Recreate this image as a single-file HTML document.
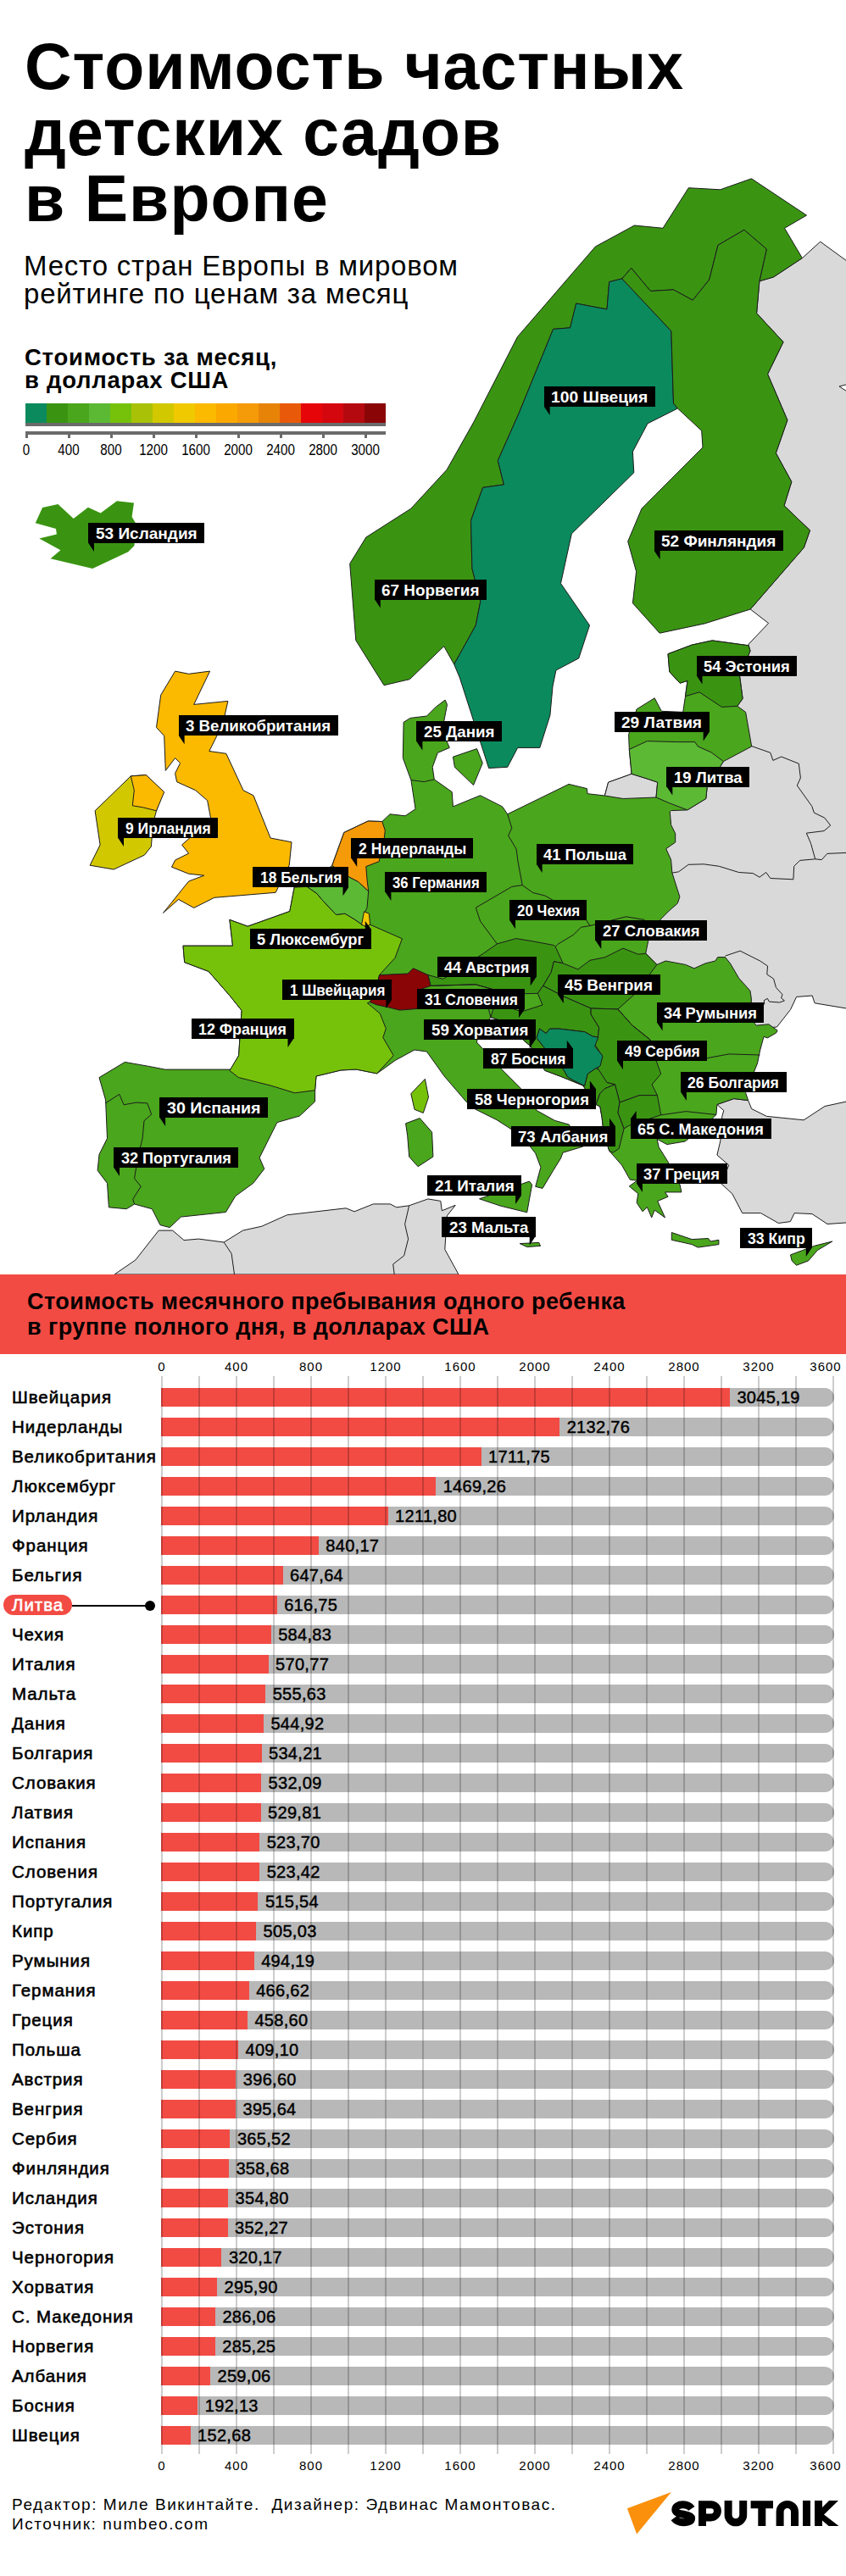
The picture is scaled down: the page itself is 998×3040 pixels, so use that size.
<!DOCTYPE html>
<html><head><meta charset="utf-8"><title>Стоимость частных детских садов в Европе</title>
<style>
html,body{margin:0;padding:0;background:#fff;}
body{width:998px;height:3040px;position:relative;overflow:hidden;font-family:"Liberation Sans",sans-serif;color:#000;}
.a{position:absolute;white-space:nowrap;}
.t{font-weight:bold;font-size:77px;line-height:78px;left:29px;letter-spacing:1px;}
.sub{font-size:33px;left:28px;letter-spacing:0.8px;}
.lt{font-weight:bold;font-size:27.5px;left:29px;letter-spacing:0.75px;}
.lab{position:absolute;background:#000;color:#fff;font-weight:bold;font-size:19px;height:24px;line-height:24px;white-space:nowrap;}
.cn{font-weight:normal;font-size:20.5px;left:14px;-webkit-text-stroke:0.6px currentColor;letter-spacing:0.95px;}
.val{font-size:20px;-webkit-text-stroke:0.45px #000;letter-spacing:0.3px;}
.ax{font-size:15px;letter-spacing:1px;}
</style></head><body>

<div class="a t" style="top:39px;">Стоимость частных</div>
<div class="a t" style="top:117px;">детских садов</div>
<div class="a t" style="top:195px;">в Европе</div>
<svg class="a" style="left:0;top:0" width="998" height="1510" viewBox="0 0 998 1510">
<polygon points="946.4,304.6 967.7,285.2 1005.0,312.4 1005.0,452.2 990.0,456.0 1005.0,465.7 1005.0,1191.1 961.1,1183.8 958.2,1175.0 939.6,1176.4 932.5,1191.5 916.4,1212.0 880.0,1215.0 760.0,1150.0 760.0,950.0 850.0,850.0 880.0,770.0 883.3,760.0 906.6,735.5 885.2,719.0 948.3,646.3 955.5,625.9 925.0,596.8 933.8,568.6 915.3,534.7 928.9,495.8 905.6,441.5 924.0,403.6 892.6,369.7 895.9,331.8 912.4,327.0" fill="#d9d9d9" stroke="#1c1c1c" stroke-width="1" stroke-linejoin="round"/>
<polygon points="845.9,1303.5 865.7,1296.6 882.6,1298.6 886.6,1308.5 904.5,1317.4 948.1,1321.8 973.0,1305.5 1005.0,1298.6 1005.0,1442.5 976.0,1444.5 958.1,1432.6 937.2,1431.6 932.3,1441.6 918.4,1443.5 897.5,1431.6 875.7,1431.6 863.8,1408.8 850.9,1396.9 859.8,1375.0 845.9,1363.1 849.9,1346.2 851.8,1317.4 853.8,1310.5" fill="#d9d9d9" stroke="#1c1c1c" stroke-width="1" stroke-linejoin="round"/>
<polygon points="135.0,1504.0 159.9,1486.9 187.2,1452.1 203.6,1452.1 217.0,1463.6 234.3,1462.1 264.1,1466.0 286.5,1452.1 308.8,1447.2 338.6,1433.8 408.1,1425.8 418.1,1429.8 440.4,1420.9 460.3,1420.9 467.7,1424.8 482.6,1422.8 504.9,1414.9 519.8,1417.4 521.3,1428.8 537.2,1422.3 527.3,1434.8 524.8,1474.5 541.0,1504.0" fill="#d9d9d9" stroke="#1c1c1c" stroke-width="1" stroke-linejoin="round"/>
<polygon points="117.0,1271.6 147.3,1253.4 175.6,1258.4 194.6,1262.1 272.1,1262.1 281.6,1245.7 285.1,1192.5 270.9,1174.8 246.1,1146.4 217.7,1135.7 216.0,1116.2 274.5,1116.2 270.9,1085.4 292.2,1093.2 341.8,1075.5 347.2,1047.1 362.1,1046.3 391.7,1021.5 405.8,982.5 434.2,969.0 450.8,969.5 460.0,960.8 478.1,962.8 490.1,954.7 484.9,920.6 475.3,894.5 476.1,852.3 484.1,847.4 503.4,845.0 514.3,834.2 525.1,826.1 527.5,831.4 523.5,852.3 525.1,870.3 530.3,882.4 516.3,888.4 510.2,905.3 512.3,919.8 533.2,934.6 534.4,951.9 566.5,938.7 592.6,951.9 598.7,960.8 671.0,925.4 692.3,930.6 693.1,936.7 713.4,939.0 717.6,923.2 745.1,913.3 742.3,884.4 741.6,866.8 751.1,836.9 772.2,823.8 780.3,839.3 805.7,840.4 808.5,821.7 811.0,803.4 802.1,806.2 789.8,792.8 788.0,771.7 816.2,761.1 840.2,755.9 883.2,761.8 885.0,768.2 872.6,798.1 876.1,824.5 869.8,833.3 879.6,840.4 886.7,880.9 853.4,898.6 834.1,929.6 832.8,942.5 810.9,955.9 791.6,956.6 790.3,957.9 791.6,973.4 796.7,983.7 796.7,994.0 785.7,1001.7 791.6,1014.6 792.9,1030.1 801.9,1058.4 799.3,1066.1 790.3,1073.9 780.0,1084.2 770.5,1097.8 764.7,1110.5 761.7,1125.2 774.9,1138.4 785.2,1134.0 808.6,1138.4 818.9,1142.8 832.1,1136.9 843.8,1134.0 846.7,1129.6 855.5,1129.6 861.4,1136.9 871.7,1154.5 884.9,1169.2 886.3,1178.0 886.3,1202.9 892.2,1210.2 906.8,1208.7 917.1,1216.1 915.6,1219.0 905.4,1224.9 901.0,1223.4 896.5,1240.0 893.5,1254.9 879.6,1289.6 882.6,1298.6 865.7,1296.6 845.9,1303.5 844.9,1315.5 830.0,1330.0 808.1,1347.0 786.8,1350.6 775.1,1344.3 777.2,1353.8 787.9,1370.9 800.6,1396.0 802.1,1398.1 803.9,1406.9 784.5,1406.9 788.1,1412.2 775.7,1417.5 784.5,1436.9 772.2,1428.1 768.7,1436.9 763.4,1424.5 758.1,1429.8 751.1,1419.3 752.8,1408.7 742.3,1399.9 751.7,1393.2 743.2,1392.1 733.6,1375.1 718.7,1358.1 712.0,1337.0 710.1,1318.8 707.8,1305.8 703.0,1303.5 687.7,1281.0 661.7,1270.4 642.7,1263.3 626.2,1234.9 590.7,1204.2 578.9,1200.6 565.0,1218.0 562.4,1230.0 590.7,1260.9 614.4,1284.6 633.3,1310.6 654.6,1322.4 671.1,1327.1 687.7,1353.1 664.0,1360.2 661.5,1367.0 652.4,1381.7 640.0,1402.4 631.7,1400.3 637.9,1377.6 631.7,1361.0 615.1,1340.3 586.2,1321.7 557.2,1307.2 549.0,1299.0 524.1,1270.0 503.4,1241.0 489.0,1239.0 466.2,1251.4 444.7,1266.9 420.0,1262.0 402.0,1263.0 373.0,1270.0 371.6,1286.7 371.6,1300.0 353.4,1317.0 326.9,1324.6 306.1,1366.2 311.8,1379.4 298.6,1396.4 277.8,1411.5 266.4,1430.5 213.5,1436.1 200.2,1448.6 188.9,1445.6 179.4,1426.7 158.6,1421.0 149.2,1426.7 128.4,1424.8 126.5,1396.4 115.1,1381.3 117.0,1362.4 126.5,1343.5 124.6,1298.1" fill="#4aa61c" stroke="#1c1c1c" stroke-width="1" stroke-linejoin="round"/>
<polygon points="534.4,893.2 562.5,883.6 569.3,900.5 558.5,926.6 536.4,905.3" fill="#4aa61c" stroke="#1c1c1c" stroke-width="1" stroke-linejoin="round"/>
<polygon points="478.6,1325.8 495.2,1319.6 509.6,1336.2 510.9,1365.1 493.1,1376.7 482.7,1365.1 480.7,1340.3" fill="#4aa61c" stroke="#1c1c1c" stroke-width="1" stroke-linejoin="round"/>
<polygon points="565.5,1414.8 624.5,1394.1 627.6,1398.2 621.7,1430.8 590.3,1423.1" fill="#4aa61c" stroke="#1c1c1c" stroke-width="1" stroke-linejoin="round"/>
<polygon points="613.2,1467.6 635.8,1466.4 637.5,1470.4 621.7,1471.5" fill="#4aa61c" stroke="#1c1c1c" stroke-width="1" stroke-linejoin="round"/>
<polygon points="792.3,1454.5 816.2,1462.6 835.6,1461.5 838.1,1465.0 847.9,1463.3 847.9,1468.6 823.3,1472.1 816.2,1468.6 792.3,1463.3" fill="#4aa61c" stroke="#1c1c1c" stroke-width="1" stroke-linejoin="round"/>
<polygon points="932.5,1480.9 946.6,1475.6 960.7,1470.3 981.8,1465.0 964.2,1475.6 953.6,1487.9 939.5,1493.2 934.2,1487.9" fill="#4aa61c" stroke="#1c1c1c" stroke-width="1" stroke-linejoin="round"/>
<polygon points="484.8,1290.7 501.4,1273.3 505.5,1294.8 499.3,1313.4 489.0,1309.3" fill="#76c20a" stroke="#1c1c1c" stroke-width="1" stroke-linejoin="round"/>
<polygon points="713.4,939.0 717.6,923.2 745.1,913.3 765.2,919.6 775.7,923.2 774.0,941.0 735.2,942.5" fill="#d9d9d9" stroke="#1c1c1c" stroke-width="1" stroke-linejoin="round"/>
<polygon points="535.7,784.0 523.7,762.7 483.4,801.6 453.0,808.7 419.8,755.7 412.7,665.2 431.8,634.1 484.8,600.2 527.2,554.2 559.0,497.8 610.4,397.6 702.4,291.0 748.4,266.0 782.0,269.3 812.3,221.7 849.7,223.8 886.5,210.8 951.5,254.1 925.5,269.3 946.4,304.6 912.4,327.0 895.9,331.8 904.3,294.0 877.9,271.3 847.0,289.3 836.7,330.0 817.2,354.3 794.5,341.9 767.4,343.5 744.7,316.4 733.8,328.9 718.7,332.6 716.0,365.0 679.7,358.1 672.6,386.8 652.6,388.4 612.0,488.0 587.3,543.6 594.4,571.9 569.6,575.4 555.5,614.3 556.9,670.9 566.8,709.7 561.2,738.0" fill="#3a9412" stroke="#1c1c1c" stroke-width="1" stroke-linejoin="round"/>
<polygon points="733.8,328.9 791.8,390.6 794.5,476.0 799.4,482.0 764.0,499.8 746.4,533.0 747.8,557.8 674.3,629.9 661.5,688.5 695.5,738.0 682.7,776.9 655.9,791.0 652.0,810.0 648.9,844.2 636.8,882.4 610.7,882.4 598.7,905.3 576.6,906.5 542.4,800.0 535.7,784.0 561.2,738.0 566.8,709.7 556.9,670.9 555.5,614.3 569.6,575.4 594.4,571.9 587.3,543.6 612.0,488.0 652.6,388.4 672.6,386.8 679.7,358.1 716.0,365.0 718.7,332.6" fill="#0b8a5e" stroke="#1c1c1c" stroke-width="1" stroke-linejoin="round"/>
<polygon points="744.7,316.4 767.4,343.5 794.5,341.9 817.2,354.3 836.7,330.0 847.0,289.3 877.9,271.3 904.3,294.0 895.9,331.8 892.6,369.7 924.0,403.6 905.6,441.5 928.9,495.8 915.3,534.7 933.8,568.6 925.0,596.8 955.5,625.9 948.3,646.3 885.2,719.0 831.2,735.9 778.2,747.2 746.4,711.8 750.6,674.4 740.7,639.0 757.0,600.2 785.2,571.9 829.0,528.0 827.7,508.3 799.4,482.0 794.5,476.0 791.8,390.6 733.8,328.9" fill="#3a9412" stroke="#1c1c1c" stroke-width="1" stroke-linejoin="round"/>
<polygon points="50.1,599.0 68.4,595.1 86.7,612.0 103.9,598.7 118.7,605.5 137.9,591.3 158.0,593.6 155.6,609.9 160.0,617.3 158.5,643.9 151.2,651.3 109.2,671.0 59.6,659.2 71.4,649.2 46.3,635.6 66.9,630.6 66.0,624.0 41.8,617.3" fill="#3a9412"/>
<polygon points="206.6,792.1 222.6,795.3 247.6,792.1 228.7,831.4 268.9,827.4 262.8,854.4 246.8,886.5 266.8,889.3 287.0,932.7 299.0,938.8 319.1,989.0 344.0,993.8 341.2,1021.2 325.1,1053.3 252.8,1059.3 228.7,1071.4 210.6,1061.4 192.5,1077.4 222.6,1040.0 240.7,1033.2 222.6,1031.2 202.5,1023.2 206.6,1015.1 222.6,1007.1 214.6,997.0 248.8,966.9 244.7,944.8 230.7,932.7 208.6,922.7 206.6,912.6 212.6,900.6 206.6,894.6 195.3,909.4 193.7,868.4 184.5,858.4 189.7,820.2" fill="#fbb900" stroke="#1c1c1c" stroke-width="1" stroke-linejoin="round"/>
<polygon points="154.3,915.9 172.4,914.6 192.5,934.7 184.5,956.8 180.4,972.1 178.4,999.0 170.4,1009.1 134.2,1026.0 106.1,1021.2 118.1,997.0 112.1,956.8" fill="#d2c800" stroke="#1c1c1c" stroke-width="1" stroke-linejoin="round"/>
<polygon points="154.3,915.9 172.4,914.6 193.7,934.7 184.5,956.8 168.4,952.8 156.3,950.8 158.3,932.7" fill="#fbb900" stroke="#1c1c1c" stroke-width="1" stroke-linejoin="round"/>
<polygon points="270.9,1263.4 281.6,1245.7 285.1,1192.5 270.9,1174.8 246.1,1146.4 217.7,1135.7 216.0,1116.2 274.5,1116.2 270.9,1085.4 292.2,1093.2 341.8,1075.5 347.2,1047.1 362.1,1046.3 373.9,1054.6 379.8,1061.7 396.4,1079.4 407.0,1078.2 418.8,1085.3 427.1,1091.2 431.8,1093.6 436.6,1091.2 474.4,1107.8 466.0,1130.4 448.2,1149.9 447.6,1150.6 442.8,1169.8 436.4,1182.6 433.3,1183.6 448.2,1196.0 455.3,1213.8 451.8,1224.4 464.2,1245.7 444.7,1266.9 420.0,1262.0 402.0,1263.0 373.0,1270.0 371.6,1286.7 347.7,1289.8 319.4,1281.1 281.5,1271.6" fill="#76c20a" stroke="#1c1c1c" stroke-width="1" stroke-linejoin="round"/>
<polygon points="362.1,1046.3 391.7,1021.5 413.0,1035.6 422.4,1040.4 434.7,1051.7 433.0,1071.1 430.7,1075.8 427.1,1091.2 418.8,1085.3 407.0,1078.2 396.4,1079.4 379.8,1061.7 373.9,1054.6" fill="#5cb934" stroke="#1c1c1c" stroke-width="1" stroke-linejoin="round"/>
<polygon points="391.7,1021.5 405.8,982.5 434.2,969.0 450.8,969.5 454.3,980.1 453.1,990.7 447.2,1016.7 431.8,1022.6 433.0,1038.0 434.7,1051.7 422.4,1040.4 413.0,1035.6" fill="#f59a08" stroke="#1c1c1c" stroke-width="1" stroke-linejoin="round"/>
<polygon points="429.5,1075.8 435.4,1078.2 436.6,1091.2 431.8,1093.6 426.6,1091.2" fill="#f1c900" stroke="#1c1c1c" stroke-width="1" stroke-linejoin="round"/>
<polygon points="447.6,1150.6 481.1,1149.0 487.5,1142.7 505.0,1150.6 508.2,1163.4 493.8,1168.2 492.2,1190.5 471.5,1192.1 458.7,1188.9 444.4,1185.8 436.4,1182.6 442.8,1169.8" fill="#8a0505" stroke="#1c1c1c" stroke-width="1" stroke-linejoin="round"/>
<polygon points="505.0,1150.6 522.6,1155.4 570.4,1125.1 586.4,1113.9 608.7,1107.6 627.9,1110.7 653.4,1115.5 655.2,1117.3 664.1,1136.8 653.4,1134.7 650.2,1147.5 640.7,1163.4 634.3,1172.3 608.7,1173.0 589.6,1169.8 560.9,1161.8 508.2,1163.4" fill="#3a9412" stroke="#1c1c1c" stroke-width="1" stroke-linejoin="round"/>
<polygon points="664.1,1136.8 681.8,1143.9 696.0,1133.3 713.8,1129.7 735.0,1119.1 752.8,1126.2 761.7,1125.2 774.9,1138.4 750.0,1172.0 728.9,1191.0 697.1,1190.0 665.4,1176.2 640.7,1163.4 650.2,1147.5 653.4,1134.7" fill="#3a9412" stroke="#1c1c1c" stroke-width="1" stroke-linejoin="round"/>
<polygon points="578.9,1200.6 590.7,1204.2 626.2,1234.9 642.7,1263.3 661.7,1270.4 687.7,1281.0 689.7,1281.6 676.7,1275.0 669.6,1270.9 664.9,1262.6 641.3,1235.5 633.0,1224.8 636.5,1214.0 644.2,1219.5 648.4,1214.2 659.0,1214.0 689.7,1217.7 699.2,1223.0 705.7,1224.2 706.6,1212.5 697.1,1197.1 697.1,1190.0 665.4,1176.2 640.7,1163.4 634.3,1172.3 640.0,1186.0 615.0,1194.0 598.0,1188.0 582.0,1190.0" fill="#3a9412" stroke="#1c1c1c" stroke-width="1" stroke-linejoin="round"/>
<polygon points="697.1,1190.0 728.9,1191.0 745.8,1210.0 767.0,1227.0 771.2,1243.9 779.7,1267.2 769.1,1279.9 775.4,1292.6 754.3,1292.6 731.0,1301.0 725.5,1279.8 716.0,1277.5 704.2,1263.3 707.8,1255.0 710.1,1245.6 701.8,1232.6 705.4,1224.3 706.6,1212.5 697.1,1197.1" fill="#3a9412" stroke="#1c1c1c" stroke-width="1" stroke-linejoin="round"/>
<polygon points="633.0,1224.8 636.5,1214.0 644.2,1219.5 648.4,1214.2 659.0,1214.0 689.7,1217.7 699.2,1223.0 705.7,1224.2 701.6,1234.9 711.0,1246.1 708.1,1257.9 702.7,1260.9 693.3,1267.4 689.7,1281.6 676.7,1275.0 669.6,1270.9 664.9,1262.6 641.3,1235.5" fill="#0b8a5e" stroke="#1c1c1c" stroke-width="1" stroke-linejoin="round"/>
<polygon points="689.7,1281.6 693.3,1267.4 702.7,1260.9 706.0,1262.0 716.0,1277.5 725.5,1279.8 713.7,1284.6 707.8,1290.5 703.0,1303.5 687.7,1281.0" fill="#3a9412" stroke="#1c1c1c" stroke-width="1" stroke-linejoin="round"/>
<polygon points="707.8,1290.5 713.7,1284.6 725.5,1279.8 731.0,1301.0 729.0,1312.9 736.1,1331.8 730.2,1355.5 723.1,1360.2 718.7,1358.1 712.0,1337.0 710.1,1318.8 707.8,1305.8 703.0,1303.5" fill="#3a9412" stroke="#1c1c1c" stroke-width="1" stroke-linejoin="round"/>
<polygon points="731.0,1301.0 754.3,1292.6 775.4,1292.6 779.7,1315.8 741.6,1328.5 736.1,1331.8 729.0,1312.9" fill="#3a9412" stroke="#1c1c1c" stroke-width="1" stroke-linejoin="round"/>
<polygon points="788.0,771.7 816.2,761.1 840.2,755.9 883.2,761.8 885.0,768.2 872.6,798.1 876.1,824.5 869.8,833.3 851.5,834.4 825.0,816.8 808.5,821.7 811.0,803.4 802.1,806.2 789.8,792.8" fill="#3a9412" stroke="#1c1c1c" stroke-width="1" stroke-linejoin="round"/>
<polygon points="742.3,884.4 763.4,874.6 798.6,875.6 819.8,875.6 823.3,880.9 839.1,887.9 853.4,898.6 834.1,929.6 832.8,942.5 810.9,955.9 789.8,947.8 774.0,941.0 775.7,923.2 765.2,919.6 745.1,913.3" fill="#5cb934" stroke="#1c1c1c" stroke-width="1" stroke-linejoin="round"/>
<polyline points="264.1,1466.0 273.1,1479.4 276.5,1504.0" fill="none" stroke="#1c1c1c" stroke-width="1" stroke-linejoin="round"/>
<polyline points="482.6,1422.8 477.6,1444.7 481.6,1462.1 476.6,1481.9 463.7,1491.9 465.2,1504.0" fill="none" stroke="#1c1c1c" stroke-width="1" stroke-linejoin="round"/>
<polyline points="886.9,880.6 908.8,888.3 911.9,897.4 921.7,893.0 942.3,901.2 944.4,918.0 940.3,927.0 957.8,951.5 960.4,959.2 972.7,965.1 979.7,974.1 972.0,980.6 951.3,983.2 956.5,995.3 961.7,1013.8 969.4,1014.6 975.8,1007.4 998.0,1006.4" fill="none" stroke="#1c1c1c" stroke-width="1" stroke-linejoin="round"/>
<polyline points="961.7,1013.8 943.6,1015.4 936.7,1022.3 935.9,1037.8 908.8,1036.5 903.7,1029.5 896.0,1035.2 888.2,1030.6 871.5,1029.5 848.3,1022.3 830.2,1019.8 812.2,1020.3 800.6,1028.8 792.9,1030.1" fill="none" stroke="#1c1c1c" stroke-width="1" stroke-linejoin="round"/>
<polyline points="855.5,1128.1 873.1,1122.2 896.6,1134.0 905.5,1140.0 904.8,1149.9 912.6,1155.1 915.5,1165.5 923.0,1173.6 921.6,1177.8 925.4,1180.9 919.7,1183.0 907.4,1182.1 905.3,1178.3 901.3,1180.7 901.7,1185.4" fill="none" stroke="#1c1c1c" stroke-width="1" stroke-linejoin="round"/>
<polyline points="124.6,1301.9 140.8,1291.3 146.1,1303.8 160.5,1301.1 173.8,1301.9 178.7,1315.1 170.0,1322.7 168.1,1343.5 162.4,1366.2 158.6,1390.7 166.2,1400.2 156.7,1415.3 158.6,1421.0" fill="none" stroke="#1c1c1c" stroke-width="1" stroke-linejoin="round"/>
<polyline points="484.9,920.6 500.2,922.6 512.3,919.8" fill="none" stroke="#1c1c1c" stroke-width="1" stroke-linejoin="round"/>
<polyline points="598.7,960.8 603.8,977.2 599.6,986.1 609.1,1002.0 610.9,1016.2 616.2,1044.6" fill="none" stroke="#1c1c1c" stroke-width="1" stroke-linejoin="round"/>
<polyline points="616.2,1044.6 628.7,1053.5 642.8,1057.0 658.8,1065.9 673.0,1073.0 688.9,1081.8 696.0,1092.5 685.4,1094.3 676.5,1103.1 658.8,1113.8 655.2,1117.3" fill="none" stroke="#1c1c1c" stroke-width="1" stroke-linejoin="round"/>
<polyline points="616.2,1044.6 603.8,1046.4 561.3,1071.2 566.6,1087.2 586.4,1113.9" fill="none" stroke="#1c1c1c" stroke-width="1" stroke-linejoin="round"/>
<polyline points="696.0,1092.5 710.2,1089.0 738.6,1081.8 759.9,1085.4 770.5,1097.8" fill="none" stroke="#1c1c1c" stroke-width="1" stroke-linejoin="round"/>
<polyline points="508.2,1163.4 560.9,1161.8 589.6,1169.8" fill="none" stroke="#1c1c1c" stroke-width="1" stroke-linejoin="round"/>
<polyline points="589.6,1169.8 575.0,1185.0 578.9,1200.6" fill="none" stroke="#1c1c1c" stroke-width="1" stroke-linejoin="round"/>
<polyline points="779.7,1315.8 809.3,1311.6 844.9,1315.5" fill="none" stroke="#1c1c1c" stroke-width="1" stroke-linejoin="round"/>
<polyline points="771.2,1243.9 796.6,1250.2 826.2,1250.2 860.1,1243.9 896.5,1245.0" fill="none" stroke="#1c1c1c" stroke-width="1" stroke-linejoin="round"/>
<polyline points="728.9,1191.0 745.8,1210.0 767.0,1227.0 771.2,1243.9" fill="none" stroke="#1c1c1c" stroke-width="1" stroke-linejoin="round"/>
<polygon points="641.6,479.5 648.6,479.5 648.6,490.0" fill="#000"/>
<polygon points="104.0,640.5 111.0,640.5 111.0,651.0" fill="#000"/>
<polygon points="771.6,649.7 778.6,649.7 778.6,660.2" fill="#000"/>
<polygon points="441.8,707.0 448.8,707.0 448.8,717.5" fill="#000"/>
<polygon points="821.5,797.0 828.5,797.0 828.5,807.5" fill="#000"/>
<polygon points="210.6,867.8 217.6,867.8 217.6,878.3" fill="#000"/>
<polygon points="829.7,863.9 836.7,863.9 829.7,874.4" fill="#000"/>
<polygon points="491.4,874.9 498.4,874.9 498.4,885.4" fill="#000"/>
<polygon points="786.3,928.0 793.3,928.0 793.3,938.5" fill="#000"/>
<polygon points="139.0,988.4 146.0,988.4 146.0,998.9" fill="#000"/>
<polygon points="414.2,1012.4 421.2,1012.4 421.2,1022.9" fill="#000"/>
<polygon points="632.6,1019.5 639.6,1019.5 639.6,1030.0" fill="#000"/>
<polygon points="404.5,1046.7 411.5,1046.7 404.5,1057.2" fill="#000"/>
<polygon points="454.4,1052.6 461.4,1052.6 461.4,1063.1" fill="#000"/>
<polygon points="601.0,1085.7 608.0,1085.7 608.0,1096.2" fill="#000"/>
<polygon points="702.3,1109.5 709.3,1109.5 709.3,1120.0" fill="#000"/>
<polygon points="430.8,1096.5 437.8,1096.5 430.8,1087.0" fill="#000"/>
<polygon points="625.7,1152.8 632.7,1152.8 625.7,1163.3" fill="#000"/>
<polygon points="657.8,1173.5 664.8,1173.5 664.8,1184.0" fill="#000"/>
<polygon points="455.4,1179.5 462.4,1179.5 455.4,1190.0" fill="#000"/>
<polygon points="612.0,1190.7 619.0,1190.7 612.0,1201.2" fill="#000"/>
<polygon points="774.6,1206.0 781.6,1206.0 781.6,1216.5" fill="#000"/>
<polygon points="339.5,1225.5 346.5,1225.5 339.5,1236.0" fill="#000"/>
<polygon points="624.7,1226.8 631.7,1226.8 624.7,1237.3" fill="#000"/>
<polygon points="728.0,1251.7 735.0,1251.7 735.0,1262.2" fill="#000"/>
<polygon points="668.8,1237.3 675.8,1237.3 668.8,1227.8" fill="#000"/>
<polygon points="802.9,1288.5 809.9,1288.5 809.9,1299.0" fill="#000"/>
<polygon points="695.9,1285.0 702.9,1285.0 695.9,1275.5" fill="#000"/>
<polygon points="188.1,1318.5 195.1,1318.5 195.1,1329.0" fill="#000"/>
<polygon points="743.7,1320.5 750.7,1320.5 750.7,1311.0" fill="#000"/>
<polygon points="719.0,1329.2 726.0,1329.2 719.0,1319.7" fill="#000"/>
<polygon points="134.0,1377.5 141.0,1377.5 141.0,1388.0" fill="#000"/>
<polygon points="750.9,1396.5 757.9,1396.5 757.9,1407.0" fill="#000"/>
<polygon points="608.1,1410.5 615.1,1410.5 608.1,1421.0" fill="#000"/>
<polygon points="624.7,1459.0 631.7,1459.0 624.7,1469.5" fill="#000"/>
<polygon points="950.8,1472.5 957.8,1472.5 950.8,1483.0" fill="#000"/>
</svg>
<div class="lab" style="left:641.6px;top:456.0px;width:131.2px;"><span style="position:absolute;left:8.5px;top:1px;transform:scaleX(1.015);transform-origin:0 0;">100 Швеция</span></div>
<div class="lab" style="left:104.0px;top:617.0px;width:136.7px;"><span style="position:absolute;left:8.5px;top:1px;transform:scaleX(1.001);transform-origin:0 0;">53 Исландия</span></div>
<div class="lab" style="left:771.6px;top:626.2px;width:152.4px;"><span style="position:absolute;left:8.5px;top:1px;transform:scaleX(1.001);transform-origin:0 0;">52 Финляндия</span></div>
<div class="lab" style="left:441.8px;top:683.5px;width:132.4px;"><span style="position:absolute;left:8.5px;top:1px;transform:scaleX(0.995);transform-origin:0 0;">67 Норвегия</span></div>
<div class="lab" style="left:821.5px;top:773.5px;width:118.7px;"><span style="position:absolute;left:8.5px;top:1px;transform:scaleX(0.965);transform-origin:0 0;">54 Эстония</span></div>
<div class="lab" style="left:210.6px;top:844.3px;width:188.1px;"><span style="position:absolute;left:8.5px;top:1px;transform:scaleX(0.984);transform-origin:0 0;">3 Великобритания</span></div>
<div class="lab" style="left:724.7px;top:840.4px;width:112.0px;"><span style="position:absolute;left:8.5px;top:1px;transform:scaleX(1.005);transform-origin:0 0;">29 Латвия</span></div>
<div class="lab" style="left:491.4px;top:851.4px;width:100.4px;"><span style="position:absolute;left:8.5px;top:1px;transform:scaleX(0.984);transform-origin:0 0;">25 Дания</span></div>
<div class="lab" style="left:786.3px;top:904.5px;width:97.6px;"><span style="position:absolute;left:8.5px;top:1px;transform:scaleX(0.974);transform-origin:0 0;">19 Литва</span></div>
<div class="lab" style="left:139.0px;top:964.9px;width:117.8px;"><span style="position:absolute;left:8.5px;top:1px;transform:scaleX(0.920);transform-origin:0 0;">9 Ирландия</span></div>
<div class="lab" style="left:414.2px;top:988.9px;width:144.2px;"><span style="position:absolute;left:8.5px;top:1px;transform:scaleX(0.926);transform-origin:0 0;">2 Нидерланды</span></div>
<div class="lab" style="left:632.6px;top:996.0px;width:114.9px;"><span style="position:absolute;left:8.5px;top:1px;transform:scaleX(0.966);transform-origin:0 0;">41 Польша</span></div>
<div class="lab" style="left:298.2px;top:1023.2px;width:113.3px;"><span style="position:absolute;left:8.5px;top:1px;transform:scaleX(0.917);transform-origin:0 0;">18 Бельгия</span></div>
<div class="lab" style="left:454.4px;top:1029.1px;width:119.6px;"><span style="position:absolute;left:8.5px;top:1px;transform:scaleX(0.879);transform-origin:0 0;">36 Германия</span></div>
<div class="lab" style="left:601.0px;top:1062.2px;width:91.2px;"><span style="position:absolute;left:8.5px;top:1px;transform:scaleX(0.890);transform-origin:0 0;">20 Чехия</span></div>
<div class="lab" style="left:702.3px;top:1086.0px;width:131.7px;"><span style="position:absolute;left:8.5px;top:1px;transform:scaleX(0.973);transform-origin:0 0;">27 Словакия</span></div>
<div class="lab" style="left:294.7px;top:1096.0px;width:143.1px;"><span style="position:absolute;left:8.5px;top:1px;transform:scaleX(0.965);transform-origin:0 0;">5 Люксембург</span></div>
<div class="lab" style="left:515.5px;top:1129.3px;width:117.2px;"><span style="position:absolute;left:8.5px;top:1px;transform:scaleX(0.949);transform-origin:0 0;">44 Австрия</span></div>
<div class="lab" style="left:657.8px;top:1150.0px;width:121.0px;"><span style="position:absolute;left:8.5px;top:1px;transform:scaleX(0.996);transform-origin:0 0;">45 Венгрия</span></div>
<div class="lab" style="left:333.0px;top:1156.0px;width:129.4px;"><span style="position:absolute;left:8.5px;top:1px;transform:scaleX(0.896);transform-origin:0 0;">1 Швейцария</span></div>
<div class="lab" style="left:492.2px;top:1167.2px;width:126.8px;"><span style="position:absolute;left:8.5px;top:1px;transform:scaleX(0.917);transform-origin:0 0;">31 Словения</span></div>
<div class="lab" style="left:774.6px;top:1182.5px;width:126.9px;"><span style="position:absolute;left:8.5px;top:1px;transform:scaleX(0.965);transform-origin:0 0;">34 Румыния</span></div>
<div class="lab" style="left:225.5px;top:1202.0px;width:121.0px;"><span style="position:absolute;left:8.5px;top:1px;transform:scaleX(0.939);transform-origin:0 0;">12 Франция</span></div>
<div class="lab" style="left:500.2px;top:1203.3px;width:131.5px;"><span style="position:absolute;left:8.5px;top:1px;transform:scaleX(0.986);transform-origin:0 0;">59 Хорватия</span></div>
<div class="lab" style="left:728.0px;top:1228.2px;width:105.8px;"><span style="position:absolute;left:8.5px;top:1px;transform:scaleX(0.917);transform-origin:0 0;">49 Сербия</span></div>
<div class="lab" style="left:570.4px;top:1236.8px;width:105.4px;"><span style="position:absolute;left:8.5px;top:1px;transform:scaleX(0.919);transform-origin:0 0;">87 Босния</span></div>
<div class="lab" style="left:802.9px;top:1265.0px;width:124.9px;"><span style="position:absolute;left:8.5px;top:1px;transform:scaleX(0.929);transform-origin:0 0;">26 Болгария</span></div>
<div class="lab" style="left:551.0px;top:1284.5px;width:151.9px;"><span style="position:absolute;left:8.5px;top:1px;transform:scaleX(0.973);transform-origin:0 0;">58 Черногория</span></div>
<div class="lab" style="left:188.1px;top:1295.0px;width:127.5px;"><span style="position:absolute;left:8.5px;top:1px;transform:scaleX(1.034);transform-origin:0 0;">30 Испания</span></div>
<div class="lab" style="left:743.7px;top:1320.0px;width:165.9px;"><span style="position:absolute;left:8.5px;top:1px;transform:scaleX(0.959);transform-origin:0 0;">65 С. Македония</span></div>
<div class="lab" style="left:602.7px;top:1328.7px;width:123.3px;"><span style="position:absolute;left:8.5px;top:1px;transform:scaleX(0.980);transform-origin:0 0;">73 Албания</span></div>
<div class="lab" style="left:134.0px;top:1354.0px;width:146.8px;"><span style="position:absolute;left:8.5px;top:1px;transform:scaleX(0.950);transform-origin:0 0;">32 Португалия</span></div>
<div class="lab" style="left:750.9px;top:1373.0px;width:107.1px;"><span style="position:absolute;left:8.5px;top:1px;transform:scaleX(0.968);transform-origin:0 0;">37 Греция</span></div>
<div class="lab" style="left:504.3px;top:1387.0px;width:110.8px;"><span style="position:absolute;left:8.5px;top:1px;transform:scaleX(0.990);transform-origin:0 0;">21 Италия</span></div>
<div class="lab" style="left:521.2px;top:1435.5px;width:110.5px;"><span style="position:absolute;left:8.5px;top:1px;transform:scaleX(0.984);transform-origin:0 0;">23 Мальта</span></div>
<div class="lab" style="left:873.1px;top:1449.0px;width:84.7px;"><span style="position:absolute;left:8.5px;top:1px;transform:scaleX(0.930);transform-origin:0 0;">33 Кипр</span></div>
<div class="a sub" style="top:295px;">Место стран Европы в мировом</div>
<div class="a sub" style="top:328px;">рейтинге по ценам за месяц</div>
<div class="a lt" style="top:405.5px;">Стоимость за месяц,</div>
<div class="a lt" style="top:432.5px;">в долларах США</div>
<div class="a" style="left:30px;top:476px;width:25px;height:23px;background:#0b8a5e"></div>
<div class="a" style="left:55px;top:476px;width:25px;height:23px;background:#3a9412"></div>
<div class="a" style="left:80px;top:476px;width:25px;height:23px;background:#4aa61c"></div>
<div class="a" style="left:105px;top:476px;width:25px;height:23px;background:#5cb934"></div>
<div class="a" style="left:130px;top:476px;width:25px;height:23px;background:#76c20a"></div>
<div class="a" style="left:155px;top:476px;width:25px;height:23px;background:#a9c208"></div>
<div class="a" style="left:180px;top:476px;width:25px;height:23px;background:#d2c800"></div>
<div class="a" style="left:205px;top:476px;width:25px;height:23px;background:#f1c900"></div>
<div class="a" style="left:230px;top:476px;width:25px;height:23px;background:#fbb900"></div>
<div class="a" style="left:255px;top:476px;width:25px;height:23px;background:#fba900"></div>
<div class="a" style="left:280px;top:476px;width:25px;height:23px;background:#f59a08"></div>
<div class="a" style="left:305px;top:476px;width:25px;height:23px;background:#e78408"></div>
<div class="a" style="left:330px;top:476px;width:25px;height:23px;background:#e85a0a"></div>
<div class="a" style="left:355px;top:476px;width:25px;height:23px;background:#e6060a"></div>
<div class="a" style="left:380px;top:476px;width:25px;height:23px;background:#d4070e"></div>
<div class="a" style="left:405px;top:476px;width:25px;height:23px;background:#b40a0f"></div>
<div class="a" style="left:430px;top:476px;width:25px;height:23px;background:#8a0505"></div>
<div class="a" style="left:30px;top:499px;width:425px;height:4px;background:#6b6b6b"></div>
<div class="a" style="left:30px;top:509px;width:425px;height:4px;background:#6b6b6b"></div>
<div class="a" style="left:30px;top:509px;width:3px;height:8px;background:#6b6b6b"></div>
<div class="a" style="left:80px;top:509px;width:3px;height:8px;background:#6b6b6b"></div>
<div class="a" style="left:130px;top:509px;width:3px;height:8px;background:#6b6b6b"></div>
<div class="a" style="left:180px;top:509px;width:3px;height:8px;background:#6b6b6b"></div>
<div class="a" style="left:230px;top:509px;width:3px;height:8px;background:#6b6b6b"></div>
<div class="a" style="left:280px;top:509px;width:3px;height:8px;background:#6b6b6b"></div>
<div class="a" style="left:330px;top:509px;width:3px;height:8px;background:#6b6b6b"></div>
<div class="a" style="left:380px;top:509px;width:3px;height:8px;background:#6b6b6b"></div>
<div class="a" style="left:430px;top:509px;width:3px;height:8px;background:#6b6b6b"></div>
<div class="a ax" style="left:31px;top:520px;width:60px;margin-left:-30px;text-align:center;font-size:18.5px;letter-spacing:0;transform:scaleX(0.82);">0</div>
<div class="a ax" style="left:81px;top:520px;width:60px;margin-left:-30px;text-align:center;font-size:18.5px;letter-spacing:0;transform:scaleX(0.82);">400</div>
<div class="a ax" style="left:131px;top:520px;width:60px;margin-left:-30px;text-align:center;font-size:18.5px;letter-spacing:0;transform:scaleX(0.82);">800</div>
<div class="a ax" style="left:181px;top:520px;width:60px;margin-left:-30px;text-align:center;font-size:18.5px;letter-spacing:0;transform:scaleX(0.82);">1200</div>
<div class="a ax" style="left:231px;top:520px;width:60px;margin-left:-30px;text-align:center;font-size:18.5px;letter-spacing:0;transform:scaleX(0.82);">1600</div>
<div class="a ax" style="left:281px;top:520px;width:60px;margin-left:-30px;text-align:center;font-size:18.5px;letter-spacing:0;transform:scaleX(0.82);">2000</div>
<div class="a ax" style="left:331px;top:520px;width:60px;margin-left:-30px;text-align:center;font-size:18.5px;letter-spacing:0;transform:scaleX(0.82);">2400</div>
<div class="a ax" style="left:381px;top:520px;width:60px;margin-left:-30px;text-align:center;font-size:18.5px;letter-spacing:0;transform:scaleX(0.82);">2800</div>
<div class="a ax" style="left:431px;top:520px;width:60px;margin-left:-30px;text-align:center;font-size:18.5px;letter-spacing:0;transform:scaleX(0.82);">3000</div>
<div class="a" style="left:0;top:1504px;width:998px;height:93.5px;background:#f24b44"></div>
<div class="a" style="left:32px;top:1522px;font-weight:bold;font-size:27px;line-height:29.5px;letter-spacing:0.45px;">Стоимость месячного пребывания одного ребенка<br>в группе полного дня, в долларах США</div>
<div class="a" style="left:190.2px;top:1624px;width:1.5px;height:1272px;background:rgba(0,0,0,0.2);z-index:3"></div>
<div class="a" style="left:234.2px;top:1624px;width:1.5px;height:1272px;background:rgba(0,0,0,0.2);z-index:3"></div>
<div class="a" style="left:278.2px;top:1624px;width:1.5px;height:1272px;background:rgba(0,0,0,0.2);z-index:3"></div>
<div class="a" style="left:322.2px;top:1624px;width:1.5px;height:1272px;background:rgba(0,0,0,0.2);z-index:3"></div>
<div class="a" style="left:366.2px;top:1624px;width:1.5px;height:1272px;background:rgba(0,0,0,0.2);z-index:3"></div>
<div class="a" style="left:410.2px;top:1624px;width:1.5px;height:1272px;background:rgba(0,0,0,0.2);z-index:3"></div>
<div class="a" style="left:454.2px;top:1624px;width:1.5px;height:1272px;background:rgba(0,0,0,0.2);z-index:3"></div>
<div class="a" style="left:498.2px;top:1624px;width:1.5px;height:1272px;background:rgba(0,0,0,0.2);z-index:3"></div>
<div class="a" style="left:542.2px;top:1624px;width:1.5px;height:1272px;background:rgba(0,0,0,0.2);z-index:3"></div>
<div class="a" style="left:586.2px;top:1624px;width:1.5px;height:1272px;background:rgba(0,0,0,0.2);z-index:3"></div>
<div class="a" style="left:630.2px;top:1624px;width:1.5px;height:1272px;background:rgba(0,0,0,0.2);z-index:3"></div>
<div class="a" style="left:674.2px;top:1624px;width:1.5px;height:1272px;background:rgba(0,0,0,0.2);z-index:3"></div>
<div class="a" style="left:718.2px;top:1624px;width:1.5px;height:1272px;background:rgba(0,0,0,0.2);z-index:3"></div>
<div class="a" style="left:762.2px;top:1624px;width:1.5px;height:1272px;background:rgba(0,0,0,0.2);z-index:3"></div>
<div class="a" style="left:806.2px;top:1624px;width:1.5px;height:1272px;background:rgba(0,0,0,0.2);z-index:3"></div>
<div class="a" style="left:850.2px;top:1624px;width:1.5px;height:1272px;background:rgba(0,0,0,0.2);z-index:3"></div>
<div class="a" style="left:894.2px;top:1624px;width:1.5px;height:1272px;background:rgba(0,0,0,0.2);z-index:3"></div>
<div class="a" style="left:938.2px;top:1624px;width:1.5px;height:1272px;background:rgba(0,0,0,0.2);z-index:3"></div>
<div class="a" style="left:982.2px;top:1624px;width:1.5px;height:1272px;background:rgba(0,0,0,0.2);z-index:3"></div>
<div class="a ax" style="left:191.0px;top:1604px;width:60px;margin-left:-30px;text-align:center;">0</div>
<div class="a ax" style="left:191.0px;top:2901px;width:60px;margin-left:-30px;text-align:center;">0</div>
<div class="a ax" style="left:279.0px;top:1604px;width:60px;margin-left:-30px;text-align:center;">400</div>
<div class="a ax" style="left:279.0px;top:2901px;width:60px;margin-left:-30px;text-align:center;">400</div>
<div class="a ax" style="left:367.0px;top:1604px;width:60px;margin-left:-30px;text-align:center;">800</div>
<div class="a ax" style="left:367.0px;top:2901px;width:60px;margin-left:-30px;text-align:center;">800</div>
<div class="a ax" style="left:455.0px;top:1604px;width:60px;margin-left:-30px;text-align:center;">1200</div>
<div class="a ax" style="left:455.0px;top:2901px;width:60px;margin-left:-30px;text-align:center;">1200</div>
<div class="a ax" style="left:543.0px;top:1604px;width:60px;margin-left:-30px;text-align:center;">1600</div>
<div class="a ax" style="left:543.0px;top:2901px;width:60px;margin-left:-30px;text-align:center;">1600</div>
<div class="a ax" style="left:631.0px;top:1604px;width:60px;margin-left:-30px;text-align:center;">2000</div>
<div class="a ax" style="left:631.0px;top:2901px;width:60px;margin-left:-30px;text-align:center;">2000</div>
<div class="a ax" style="left:719.0px;top:1604px;width:60px;margin-left:-30px;text-align:center;">2400</div>
<div class="a ax" style="left:719.0px;top:2901px;width:60px;margin-left:-30px;text-align:center;">2400</div>
<div class="a ax" style="left:807.0px;top:1604px;width:60px;margin-left:-30px;text-align:center;">2800</div>
<div class="a ax" style="left:807.0px;top:2901px;width:60px;margin-left:-30px;text-align:center;">2800</div>
<div class="a ax" style="left:895.0px;top:1604px;width:60px;margin-left:-30px;text-align:center;">3200</div>
<div class="a ax" style="left:895.0px;top:2901px;width:60px;margin-left:-30px;text-align:center;">3200</div>
<div class="a ax" style="left:974.0px;top:1604px;width:60px;margin-left:-30px;text-align:center;">3600</div>
<div class="a ax" style="left:974.0px;top:2901px;width:60px;margin-left:-30px;text-align:center;">3600</div>
<div class="a" style="left:190px;top:1638px;width:794px;height:22px;background:#b8b8b8;border-radius:0 11px 11px 0"></div>
<div class="a" style="left:190px;top:1638px;width:670.9px;height:22px;background:#f24b44"></div>
<div class="a val" style="left:869.4px;top:1638px;line-height:22px;z-index:4">3045,19</div>
<div class="a cn" style="top:1638px;line-height:22px;">Швейцария</div>
<div class="a" style="left:190px;top:1673px;width:794px;height:22px;background:#b8b8b8;border-radius:0 11px 11px 0"></div>
<div class="a" style="left:190px;top:1673px;width:470.2px;height:22px;background:#f24b44"></div>
<div class="a val" style="left:668.7px;top:1673px;line-height:22px;z-index:4">2132,76</div>
<div class="a cn" style="top:1673px;line-height:22px;">Нидерланды</div>
<div class="a" style="left:190px;top:1708px;width:794px;height:22px;background:#b8b8b8;border-radius:0 11px 11px 0"></div>
<div class="a" style="left:190px;top:1708px;width:377.6px;height:22px;background:#f24b44"></div>
<div class="a val" style="left:576.1px;top:1708px;line-height:22px;z-index:4">1711,75</div>
<div class="a cn" style="top:1708px;line-height:22px;">Великобритания</div>
<div class="a" style="left:190px;top:1743px;width:794px;height:22px;background:#b8b8b8;border-radius:0 11px 11px 0"></div>
<div class="a" style="left:190px;top:1743px;width:324.2px;height:22px;background:#f24b44"></div>
<div class="a val" style="left:522.7px;top:1743px;line-height:22px;z-index:4">1469,26</div>
<div class="a cn" style="top:1743px;line-height:22px;">Люксембург</div>
<div class="a" style="left:190px;top:1778px;width:794px;height:22px;background:#b8b8b8;border-radius:0 11px 11px 0"></div>
<div class="a" style="left:190px;top:1778px;width:267.6px;height:22px;background:#f24b44"></div>
<div class="a val" style="left:466.1px;top:1778px;line-height:22px;z-index:4">1211,80</div>
<div class="a cn" style="top:1778px;line-height:22px;">Ирландия</div>
<div class="a" style="left:190px;top:1813px;width:794px;height:22px;background:#b8b8b8;border-radius:0 11px 11px 0"></div>
<div class="a" style="left:190px;top:1813px;width:185.8px;height:22px;background:#f24b44"></div>
<div class="a val" style="left:384.3px;top:1813px;line-height:22px;z-index:4">840,17</div>
<div class="a cn" style="top:1813px;line-height:22px;">Франция</div>
<div class="a" style="left:190px;top:1848px;width:794px;height:22px;background:#b8b8b8;border-radius:0 11px 11px 0"></div>
<div class="a" style="left:190px;top:1848px;width:143.5px;height:22px;background:#f24b44"></div>
<div class="a val" style="left:342.0px;top:1848px;line-height:22px;z-index:4">647,64</div>
<div class="a cn" style="top:1848px;line-height:22px;">Бельгия</div>
<div class="a" style="left:190px;top:1883px;width:794px;height:22px;background:#b8b8b8;border-radius:0 11px 11px 0"></div>
<div class="a" style="left:190px;top:1883px;width:136.7px;height:22px;background:#f24b44"></div>
<div class="a val" style="left:335.2px;top:1883px;line-height:22px;z-index:4">616,75</div>
<div class="a" style="left:4px;top:1882px;width:81px;height:24px;border-radius:12px;background:#f24b44"></div>
<div class="a cn" style="top:1883px;line-height:22px;color:#fff">Литва</div>
<div class="a" style="left:85px;top:1894px;width:90px;height:2px;background:#000"></div>
<div class="a" style="left:171px;top:1889px;width:12px;height:12px;border-radius:6px;background:#000"></div>
<div class="a" style="left:190px;top:1918px;width:794px;height:22px;background:#b8b8b8;border-radius:0 11px 11px 0"></div>
<div class="a" style="left:190px;top:1918px;width:129.7px;height:22px;background:#f24b44"></div>
<div class="a val" style="left:328.2px;top:1918px;line-height:22px;z-index:4">584,83</div>
<div class="a cn" style="top:1918px;line-height:22px;">Чехия</div>
<div class="a" style="left:190px;top:1953px;width:794px;height:22px;background:#b8b8b8;border-radius:0 11px 11px 0"></div>
<div class="a" style="left:190px;top:1953px;width:126.6px;height:22px;background:#f24b44"></div>
<div class="a val" style="left:325.1px;top:1953px;line-height:22px;z-index:4">570,77</div>
<div class="a cn" style="top:1953px;line-height:22px;">Италия</div>
<div class="a" style="left:190px;top:1988px;width:794px;height:22px;background:#b8b8b8;border-radius:0 11px 11px 0"></div>
<div class="a" style="left:190px;top:1988px;width:123.2px;height:22px;background:#f24b44"></div>
<div class="a val" style="left:321.7px;top:1988px;line-height:22px;z-index:4">555,63</div>
<div class="a cn" style="top:1988px;line-height:22px;">Мальта</div>
<div class="a" style="left:190px;top:2023px;width:794px;height:22px;background:#b8b8b8;border-radius:0 11px 11px 0"></div>
<div class="a" style="left:190px;top:2023px;width:120.9px;height:22px;background:#f24b44"></div>
<div class="a val" style="left:319.4px;top:2023px;line-height:22px;z-index:4">544,92</div>
<div class="a cn" style="top:2023px;line-height:22px;">Дания</div>
<div class="a" style="left:190px;top:2058px;width:794px;height:22px;background:#b8b8b8;border-radius:0 11px 11px 0"></div>
<div class="a" style="left:190px;top:2058px;width:118.5px;height:22px;background:#f24b44"></div>
<div class="a val" style="left:317.0px;top:2058px;line-height:22px;z-index:4">534,21</div>
<div class="a cn" style="top:2058px;line-height:22px;">Болгария</div>
<div class="a" style="left:190px;top:2093px;width:794px;height:22px;background:#b8b8b8;border-radius:0 11px 11px 0"></div>
<div class="a" style="left:190px;top:2093px;width:118.1px;height:22px;background:#f24b44"></div>
<div class="a val" style="left:316.6px;top:2093px;line-height:22px;z-index:4">532,09</div>
<div class="a cn" style="top:2093px;line-height:22px;">Словакия</div>
<div class="a" style="left:190px;top:2128px;width:794px;height:22px;background:#b8b8b8;border-radius:0 11px 11px 0"></div>
<div class="a" style="left:190px;top:2128px;width:117.6px;height:22px;background:#f24b44"></div>
<div class="a val" style="left:316.1px;top:2128px;line-height:22px;z-index:4">529,81</div>
<div class="a cn" style="top:2128px;line-height:22px;">Латвия</div>
<div class="a" style="left:190px;top:2163px;width:794px;height:22px;background:#b8b8b8;border-radius:0 11px 11px 0"></div>
<div class="a" style="left:190px;top:2163px;width:116.2px;height:22px;background:#f24b44"></div>
<div class="a val" style="left:314.7px;top:2163px;line-height:22px;z-index:4">523,70</div>
<div class="a cn" style="top:2163px;line-height:22px;">Испания</div>
<div class="a" style="left:190px;top:2198px;width:794px;height:22px;background:#b8b8b8;border-radius:0 11px 11px 0"></div>
<div class="a" style="left:190px;top:2198px;width:116.2px;height:22px;background:#f24b44"></div>
<div class="a val" style="left:314.7px;top:2198px;line-height:22px;z-index:4">523,42</div>
<div class="a cn" style="top:2198px;line-height:22px;">Словения</div>
<div class="a" style="left:190px;top:2233px;width:794px;height:22px;background:#b8b8b8;border-radius:0 11px 11px 0"></div>
<div class="a" style="left:190px;top:2233px;width:114.4px;height:22px;background:#f24b44"></div>
<div class="a val" style="left:312.9px;top:2233px;line-height:22px;z-index:4">515,54</div>
<div class="a cn" style="top:2233px;line-height:22px;">Португалия</div>
<div class="a" style="left:190px;top:2268px;width:794px;height:22px;background:#b8b8b8;border-radius:0 11px 11px 0"></div>
<div class="a" style="left:190px;top:2268px;width:112.1px;height:22px;background:#f24b44"></div>
<div class="a val" style="left:310.6px;top:2268px;line-height:22px;z-index:4">505,03</div>
<div class="a cn" style="top:2268px;line-height:22px;">Кипр</div>
<div class="a" style="left:190px;top:2303px;width:794px;height:22px;background:#b8b8b8;border-radius:0 11px 11px 0"></div>
<div class="a" style="left:190px;top:2303px;width:109.7px;height:22px;background:#f24b44"></div>
<div class="a val" style="left:308.2px;top:2303px;line-height:22px;z-index:4">494,19</div>
<div class="a cn" style="top:2303px;line-height:22px;">Румыния</div>
<div class="a" style="left:190px;top:2338px;width:794px;height:22px;background:#b8b8b8;border-radius:0 11px 11px 0"></div>
<div class="a" style="left:190px;top:2338px;width:103.7px;height:22px;background:#f24b44"></div>
<div class="a val" style="left:302.2px;top:2338px;line-height:22px;z-index:4">466,62</div>
<div class="a cn" style="top:2338px;line-height:22px;">Германия</div>
<div class="a" style="left:190px;top:2373px;width:794px;height:22px;background:#b8b8b8;border-radius:0 11px 11px 0"></div>
<div class="a" style="left:190px;top:2373px;width:101.9px;height:22px;background:#f24b44"></div>
<div class="a val" style="left:300.4px;top:2373px;line-height:22px;z-index:4">458,60</div>
<div class="a cn" style="top:2373px;line-height:22px;">Греция</div>
<div class="a" style="left:190px;top:2408px;width:794px;height:22px;background:#b8b8b8;border-radius:0 11px 11px 0"></div>
<div class="a" style="left:190px;top:2408px;width:91.0px;height:22px;background:#f24b44"></div>
<div class="a val" style="left:289.5px;top:2408px;line-height:22px;z-index:4">409,10</div>
<div class="a cn" style="top:2408px;line-height:22px;">Польша</div>
<div class="a" style="left:190px;top:2443px;width:794px;height:22px;background:#b8b8b8;border-radius:0 11px 11px 0"></div>
<div class="a" style="left:190px;top:2443px;width:88.3px;height:22px;background:#f24b44"></div>
<div class="a val" style="left:286.8px;top:2443px;line-height:22px;z-index:4">396,60</div>
<div class="a cn" style="top:2443px;line-height:22px;">Австрия</div>
<div class="a" style="left:190px;top:2478px;width:794px;height:22px;background:#b8b8b8;border-radius:0 11px 11px 0"></div>
<div class="a" style="left:190px;top:2478px;width:88.0px;height:22px;background:#f24b44"></div>
<div class="a val" style="left:286.5px;top:2478px;line-height:22px;z-index:4">395,64</div>
<div class="a cn" style="top:2478px;line-height:22px;">Венгрия</div>
<div class="a" style="left:190px;top:2513px;width:794px;height:22px;background:#b8b8b8;border-radius:0 11px 11px 0"></div>
<div class="a" style="left:190px;top:2513px;width:81.4px;height:22px;background:#f24b44"></div>
<div class="a val" style="left:279.9px;top:2513px;line-height:22px;z-index:4">365,52</div>
<div class="a cn" style="top:2513px;line-height:22px;">Сербия</div>
<div class="a" style="left:190px;top:2548px;width:794px;height:22px;background:#b8b8b8;border-radius:0 11px 11px 0"></div>
<div class="a" style="left:190px;top:2548px;width:79.9px;height:22px;background:#f24b44"></div>
<div class="a val" style="left:278.4px;top:2548px;line-height:22px;z-index:4">358,68</div>
<div class="a cn" style="top:2548px;line-height:22px;">Финляндия</div>
<div class="a" style="left:190px;top:2583px;width:794px;height:22px;background:#b8b8b8;border-radius:0 11px 11px 0"></div>
<div class="a" style="left:190px;top:2583px;width:79.1px;height:22px;background:#f24b44"></div>
<div class="a val" style="left:277.6px;top:2583px;line-height:22px;z-index:4">354,80</div>
<div class="a cn" style="top:2583px;line-height:22px;">Исландия</div>
<div class="a" style="left:190px;top:2618px;width:794px;height:22px;background:#b8b8b8;border-radius:0 11px 11px 0"></div>
<div class="a" style="left:190px;top:2618px;width:78.5px;height:22px;background:#f24b44"></div>
<div class="a val" style="left:277.0px;top:2618px;line-height:22px;z-index:4">352,27</div>
<div class="a cn" style="top:2618px;line-height:22px;">Эстония</div>
<div class="a" style="left:190px;top:2653px;width:794px;height:22px;background:#b8b8b8;border-radius:0 11px 11px 0"></div>
<div class="a" style="left:190px;top:2653px;width:71.4px;height:22px;background:#f24b44"></div>
<div class="a val" style="left:269.9px;top:2653px;line-height:22px;z-index:4">320,17</div>
<div class="a cn" style="top:2653px;line-height:22px;">Черногория</div>
<div class="a" style="left:190px;top:2688px;width:794px;height:22px;background:#b8b8b8;border-radius:0 11px 11px 0"></div>
<div class="a" style="left:190px;top:2688px;width:66.1px;height:22px;background:#f24b44"></div>
<div class="a val" style="left:264.6px;top:2688px;line-height:22px;z-index:4">295,90</div>
<div class="a cn" style="top:2688px;line-height:22px;">Хорватия</div>
<div class="a" style="left:190px;top:2723px;width:794px;height:22px;background:#b8b8b8;border-radius:0 11px 11px 0"></div>
<div class="a" style="left:190px;top:2723px;width:63.9px;height:22px;background:#f24b44"></div>
<div class="a val" style="left:262.4px;top:2723px;line-height:22px;z-index:4">286,06</div>
<div class="a cn" style="top:2723px;line-height:22px;">С. Македония</div>
<div class="a" style="left:190px;top:2758px;width:794px;height:22px;background:#b8b8b8;border-radius:0 11px 11px 0"></div>
<div class="a" style="left:190px;top:2758px;width:63.8px;height:22px;background:#f24b44"></div>
<div class="a val" style="left:262.3px;top:2758px;line-height:22px;z-index:4">285,25</div>
<div class="a cn" style="top:2758px;line-height:22px;">Норвегия</div>
<div class="a" style="left:190px;top:2793px;width:794px;height:22px;background:#b8b8b8;border-radius:0 11px 11px 0"></div>
<div class="a" style="left:190px;top:2793px;width:58.0px;height:22px;background:#f24b44"></div>
<div class="a val" style="left:256.5px;top:2793px;line-height:22px;z-index:4">259,06</div>
<div class="a cn" style="top:2793px;line-height:22px;">Албания</div>
<div class="a" style="left:190px;top:2828px;width:794px;height:22px;background:#b8b8b8;border-radius:0 11px 11px 0"></div>
<div class="a" style="left:190px;top:2828px;width:43.3px;height:22px;background:#f24b44"></div>
<div class="a val" style="left:241.8px;top:2828px;line-height:22px;z-index:4">192,13</div>
<div class="a cn" style="top:2828px;line-height:22px;">Босния</div>
<div class="a" style="left:190px;top:2863px;width:794px;height:22px;background:#b8b8b8;border-radius:0 11px 11px 0"></div>
<div class="a" style="left:190px;top:2863px;width:34.6px;height:22px;background:#f24b44"></div>
<div class="a val" style="left:233.1px;top:2863px;line-height:22px;z-index:4">152,68</div>
<div class="a cn" style="top:2863px;line-height:22px;">Швеция</div>
<div class="a" style="left:14px;top:2944px;font-size:19px;letter-spacing:1.55px;line-height:23px;">Редактор: Миле Викинтайте.&nbsp; Дизайнер: Эдвинас Мамонтовас.<br>Источник: numbeo.com</div>
<svg class="a" style="left:0;top:2900px" width="998" height="140" viewBox="0 2900 998 140">
<polygon points="739.9,2960.2 791.9,2941 751.1,2990.6" fill="#fa900c"/>
<g fill="none" stroke="#000" stroke-width="9">
<path d="M815.8,2960.5 C813.5,2957.2 810,2955.7 805.8,2955.7 C800.2,2955.7 796.8,2958.2 796.8,2961.6 C796.8,2965.4 800.8,2966.4 806.2,2967.3 C812.2,2968.3 815.6,2969.9 815.6,2971.8 C815.6,2975.2 812,2976.7 806.2,2976.7 C801.2,2976.7 797.6,2974.9 795.2,2971.6"/>
<path d="M828.5,2981 V2955.7 H838.8 A7.6,7.6 0 0 1 838.8,2970.9 H828.5"/>
<path d="M859.1,2951 V2968 A8.8,8.8 0 0 0 876.7,2968 V2951"/>
<path d="M885.6,2955.7 H912 M898.8,2955.7 V2981"/>
<path d="M920.1,2981 V2964.2 A8.7,8.7 0 0 1 937.5,2964.2 V2981"/>
<path d="M951.5,2951 V2981"/>
<path d="M965.5,2951 V2981"/>
</g>
<polygon points="978,2951 989,2951 972,2967.5 989.5,2981 977.5,2981 966,2971 966,2963" fill="#000"/>
</svg>
</body></html>
